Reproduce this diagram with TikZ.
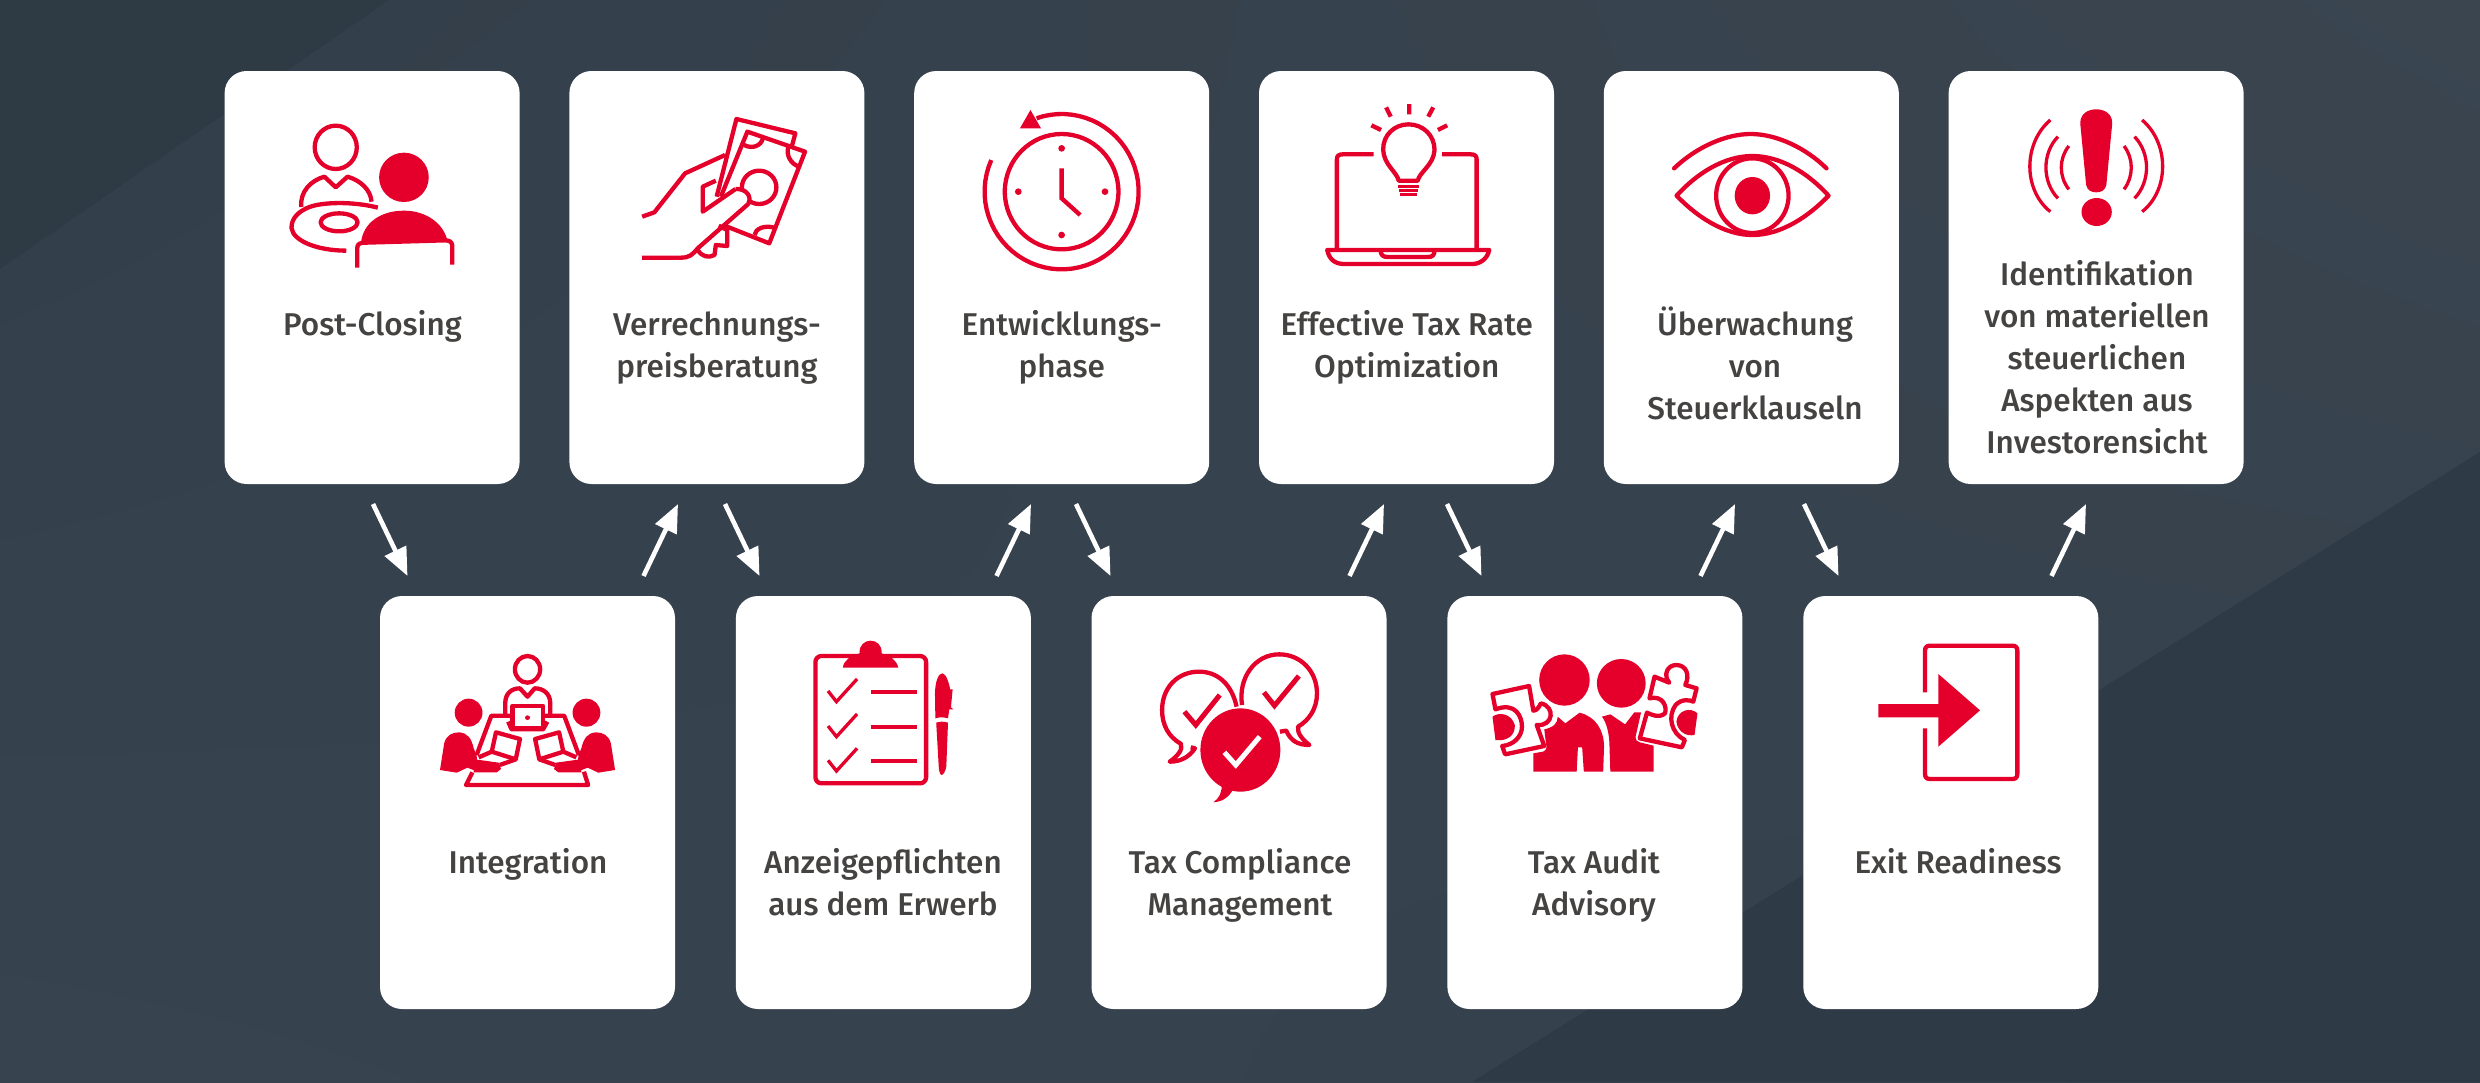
\documentclass[tikz,border=0pt]{standalone}
\usepackage{fontspec}
\setmainfont{Fira Sans}[UprightFont=* Medium]
\usetikzlibrary{arrows.meta,calc,shadings}
\definecolor{myred}{HTML}{E4002B}
\definecolor{mytext}{HTML}{454342}
\definecolor{bgul}{HTML}{323E49}
\definecolor{bgur}{HTML}{3A4550}
\definecolor{bgll}{HTML}{37444F}
\definecolor{bglr}{HTML}{34404B}
\definecolor{bgdark}{HTML}{2E3A44}
\definecolor{bgdark2}{HTML}{2E3A45}
\tikzset{
  card/.style={fill=white,rounded corners=22pt,minimum width=295pt,minimum height=413pt,inner sep=0pt,outer sep=0pt,anchor=north west},
  lab/.style={text=mytext,align=center,anchor=base,inner sep=0pt,font=\fontsize{31.5}{42}\selectfont},
  flow/.style={draw=white,line width=4.6pt,-{Triangle[length=28pt,width=23pt]},shorten <=22.2pt,shorten >=22.2pt},
  rl/.style={draw=myred,line width=4.3pt,line join=round},
  rn/.style={draw=myred,line width=3.3pt,line join=round},
  rf/.style={fill=myred},
  zA/.style 2 args={shift={(#1,#2)},xscale=0.42088,yscale=0.33333},
  zB/.style 2 args={shift={(#1,#2)},xscale=0.33333,yscale=0.33333},
}
\newcommand\earc[6]{plot[domain=#5:#6,samples=60,variable=\t]({#1+#3*cos(\t)},{#2+#4*sin(\t)})}
\newcommand\flowup[4]{\draw[flow] ($(#1.north)+(#2,0)$) -- ($(#3.south)+(#4,0)$);}
\newcommand\flowdn[4]{\draw[flow] ($(#1.south)+(#2,0)$) -- ($(#3.north)+(#4,0)$);}
\begin{document}
\begin{tikzpicture}[x=1pt,y=-1pt]
\useasboundingbox (0,0) rectangle (2480,1082);
% background
\shade[lower left=bgll,upper right=bgur,lower right=bglr,upper left=bgul] (0,0) rectangle (2480,1082);
\fill[bgdark] (0,0) -- (389,0) -- (0,269) -- cycle;
\fill[bgdark2] (2480,452) -- (2480,1082) -- (1472,1082) -- cycle;
% cards
\node[card] (c1) at (224.6,71) {};
\node[card] (c2) at (569.4,71) {};
\node[card] (c3) at (914.2,71) {};
\node[card] (c4) at (1259,71) {};
\node[card] (c5) at (1603.8,71) {};
\node[card] (c6) at (1948.6,71) {};
\node[card] (d1) at (380,596) {};
\node[card] (d2) at (735.9,596) {};
\node[card] (d3) at (1091.5,596) {};
\node[card] (d4) at (1447.4,596) {};
\node[card] (d5) at (1803.3,596) {};
% labels
\node[lab] (t1) at (372.5,335) {Post-Closing};
\node[lab] (t2) at (716.9,377) {Verrechnungs-\\preisberatung};
\node[lab] (t3) at (1061.7,377) {Entwicklungs-\\phase};
\node[lab] (t4) at (1406.8,377) {Effective Tax Rate\\Optimization};
\node[lab] (t5) at (1755,419) {Überwachung\\von\\Steuerklauseln};
\node[lab] (t6) at (2097,453) {Identifikation\\von materiellen\\steuerlichen\\Aspekten aus\\Investorensicht};
\node[lab] (t7) at (528,873) {Integration};
\node[lab] (t8) at (883,915) {Anzeigepflichten\\aus dem Erwerb};
\node[lab] (t9) at (1240,915) {Tax Compliance\\Management};
\node[lab] (t10) at (1594,915) {Tax Audit\\Advisory};
\node[lab] (t11) at (1958,873) {Exit Readiness};
% connectors
\flowdn{c1}{-8.7}{d1}{-110.4}
\flowup{d1}{106.4}{c2}{-29.3}
\flowdn{c2}{-1.5}{d2}{-114.3}
\flowup{d2}{103.5}{c3}{-21.1}
\flowdn{c3}{4.7}{d3}{-118.9}
\flowup{d3}{100.9}{c4}{-12.9}
\flowdn{c4}{30.9}{d4}{-103.8}
\flowup{d4}{96}{c5}{-6.7}
\flowdn{c5}{43.1}{d5}{-102.7}
\flowup{d5}{91.1}{c6}{-0.5}
% icons row 1 (first two)
\begin{scope}[zA={220}{60}]
 % Post-Closing
 \draw[rl] (275,262) ellipse [x radius=50,y radius=65];
 \draw[rl] (193,441) .. controls (190,395) and (215,362) .. (248,350) -- (275,382) -- (303,350) .. controls (335,362) and (358,390) .. (360,425);
 \draw[rl] (375,443) .. controls (330,428) and (270,425) .. (230,435) .. controls (190,445) and (168,475) .. (170,505) .. controls (175,545) and (235,572) .. (300,572);
 \draw[rl] (283,487) ellipse [x radius=44,y radius=27];
 \fill[rf] (437,352) ellipse [x radius=59,y radius=74];
 \fill[rf] (335,548) .. controls (340,490) and (380,452) .. (437,452) .. controls (490,452) and (530,490) .. (540,540) -- cycle;
 \draw[rl] (326,623) -- (326,565) .. controls (326,552) and (332,548) .. (345,548) -- (535,541) .. controls (548,541) and (552,548) .. (552,560) -- (552,614);
 % money
 \draw[rl] (1180,410) -- (1227,177) -- (1367,220) -- (1358,262);
 \draw[rl] (1190,410) -- (1253,215) -- (1390,275) -- (1305,550) -- (1195,495);
 \draw[rl] (1245,255) .. controls (1265,268) and (1285,258) .. (1290,235);
 \draw[rl] (1350,262) .. controls (1345,285) and (1355,310) .. (1375,320);
 \draw[rl] (1270,525) .. controls (1272,505) and (1295,495) .. (1317,503);
 \draw[rl] (1281,382) ellipse [x radius=41,y radius=50];
 \fill[white] (1147,455) -- (1225,387) .. controls (1250,385) and (1265,410) .. (1255,432) -- (1135,565) -- (1100,590) -- (1003,590) -- (1003,475) -- (1032,457) -- cycle;
 \draw[rl] (1003,470) -- (1032,457) -- (1105,340) -- (1200,285);
 \draw[rl] (1178,362) -- (1147,380) -- (1147,455) -- (1225,387);
 \draw[rl] (1185,497) -- (1205,510) -- (1205,558) -- (1178,555) -- (1175,585) .. controls (1160,595) and (1145,590) .. (1135,570);
 \draw[rl] (1003,593) -- (1095,593) .. controls (1115,593) and (1122,585) .. (1135,565) -- (1255,432) .. controls (1265,410) and (1250,385) .. (1225,387);
\end{scope}
\begin{scope}[zA={900}{60}]
 % clock
 \draw[rl] \earc{384}{395}{183}{233}{204}{-109};
 \fill[rf] (310,150) -- (285,205) -- (335,205) -- cycle;
 \draw[rl] (384,395) ellipse [x radius=135,y radius=173];
 \foreach \p in {(384,265),(384,525),(281,395),(487,395)} \fill[rf] \p ellipse [x radius=8,y radius=10];
 \draw[rl,line join=miter] (384,325) -- (384,415) -- (428,465);
 % laptop
 \draw[rl] (1185,362) .. controls (1180,335) and (1150,315) .. (1148,270) .. controls (1147,225) and (1175,193) .. (1208,193) .. controls (1242,193) and (1270,225) .. (1270,270) .. controls (1268,315) and (1235,335) .. (1230,362) -- cycle;
 \draw[rn] (1183,380) -- (1233,380) (1185,392) -- (1231,392) (1187,403) -- (1228,403);
 \draw[rl] (1210,132) -- (1210,163) (1155,142) -- (1166,170) (1267,142) -- (1255,170) (1120,196) -- (1143,210) (1300,196) -- (1278,210);
 \draw[rl] (1125,283) -- (1052,283) .. controls (1042,283) and (1038,288) .. (1038,298) -- (1038,570);
 \draw[rl] (1288,283) -- (1356,283) .. controls (1366,283) and (1370,288) .. (1370,298) -- (1370,570);
 \draw[rl] (1015,570) -- (1400,570) .. controls (1395,600) and (1375,612) .. (1360,612) -- (1055,612) .. controls (1035,612) and (1020,600) .. (1015,570) -- cycle;
 \draw[rl] (1142,572) .. controls (1142,585) and (1148,591) .. (1158,591) -- (1255,591) .. controls (1265,591) and (1270,585) .. (1270,572);
\end{scope}
\begin{scope}[zA={1600}{60}]
 % eye
 \draw[rl,line cap=round] (176,325) .. controls (230,260) and (300,222) .. (358,222) .. controls (420,222) and (490,265) .. (538,325);
 \draw[rl] (182,407) .. controls (230,340) and (295,288) .. (362,288) .. controls (430,288) and (495,340) .. (543,407) .. controls (495,470) and (430,525) .. (362,525) .. controls (295,525) and (230,470) .. (182,407) -- cycle;
 \draw[rl] (362,407) ellipse [x radius=86,y radius=112];
 \fill[rf] (362,407) ellipse [x radius=42,y radius=56];
 % alert
 \fill[rf] (1141,190) .. controls (1141,160) and (1160,148) .. (1179,148) .. controls (1198,148) and (1217,160) .. (1217,190) -- (1203,375) .. controls (1200,392) and (1190,397) .. (1179,397) .. controls (1168,397) and (1158,392) .. (1155,375) -- cycle;
 \fill[rf] (1180,456) ellipse [x radius=36,y radius=42];
 \draw[rn] (1070,180) .. controls (1005,250) and (1005,390) .. (1070,455);
 \draw[rn] (1088,230) .. controls (1050,280) and (1050,365) .. (1088,415);
 \draw[rn] (1114,258) .. controls (1090,295) and (1090,350) .. (1114,388);
 \draw[rn] (1288,180) .. controls (1353,250) and (1353,390) .. (1288,455);
 \draw[rn] (1270,230) .. controls (1308,280) and (1308,365) .. (1270,415);
 \draw[rn] (1245,258) .. controls (1268,295) and (1268,350) .. (1245,388);
\end{scope}
\begin{scope}[zA={400}{620}]
 % meeting
 \draw[rl] (303,148) ellipse [x radius=30,y radius=40];
 \draw[rl] (250,285) -- (250,250) .. controls (250,220) and (265,205) .. (285,205) -- (303,230) -- (320,205) .. controls (340,205) and (357,220) .. (357,250) -- (357,285);
 \draw[rl] (267,258) rectangle (340,325);
 \fill[rf] (303,293) ellipse [x radius=6,y radius=7];
 \draw[rl] (257,305) -- (265,328) -- (340,328) -- (350,305);
 \draw[rl] (182,405) -- (217,287) -- (262,287) (345,287) -- (390,287) -- (425,405);
 \draw[rl] (172,457) -- (157,495) -- (447,495) -- (437,455);
 \foreach \mir/\sft in {1/0,-1/606}{
 \begin{scope}[shift={(\sft,0)},xscale=\mir]
  \fill[rf] (163,278) ellipse [x radius=33,y radius=42];
  \fill[rf] (95,450) -- (105,370) .. controls (110,345) and (125,337) .. (140,337) .. controls (160,338) and (170,355) .. (175,385) -- (182,405) -- (185,455) -- (160,443) -- (135,458) -- cycle;
  \draw[rl] (228,337) -- (285,357) -- (275,418) -- (218,395) -- cycle;
  \draw[rl] (218,395) -- (187,412);
  \draw[rl] (275,418) -- (237,435);
  \fill[rf] (178,418) -- (235,428) -- (240,447) -- (230,457) -- (175,457) -- cycle;
 \end{scope}}
 % clipboard
 \draw[rl,rounded corners=6pt] (987,108) rectangle (1250,490);
 \fill[rf] (1052,143) .. controls (1055,120) and (1070,108) .. (1092,100) .. controls (1090,75) and (1105,62) .. (1118,62) .. controls (1132,62) and (1146,75) .. (1144,100) .. controls (1165,108) and (1180,120) .. (1184,143) -- cycle;
 \foreach \d in {0,105,208}{
  \draw[rn,line join=miter] (1017,{213+\d}) -- (1037,{245+\d}) -- (1086,{177+\d});
  \draw[rl] (1118,{216+\d}) -- (1228,{216+\d});
 }
 \fill[rf] (1272,295) -- (1271,220) .. controls (1272,180) and (1280,160) .. (1289,160) .. controls (1298,162) and (1305,190) .. (1307,208) -- (1313,208) -- (1309,262) -- (1315,268) -- (1305,268) -- (1302,295) .. controls (1292,291) and (1282,291) .. (1272,295) -- cycle;
 \fill[rf] (1274,308) .. controls (1283,304) and (1293,304) .. (1302,308) -- (1298,440) .. controls (1296,455) and (1290,465) .. (1287,465) .. controls (1283,465) and (1280,450) .. (1280,440) -- cycle;
\end{scope}
\begin{scope}[zA={1120}{620}]
 % bubbles
 \draw[rl] (277,260) .. controls (265,190) and (230,155) .. (188,155) .. controls (135,155) and (100,205) .. (100,270) .. controls (100,315) and (115,350) .. (145,372) .. controls (150,390) and (135,410) .. (118,425) .. controls (145,425) and (165,410) .. (178,385) -- (168,382);
 \draw[rl] (290,255) .. controls (280,175) and (320,103) .. (378,103) .. controls (430,103) and (468,155) .. (468,220) .. controls (468,265) and (450,300) .. (423,320) .. controls (420,340) and (435,360) .. (450,375) .. controls (420,375) and (405,360) .. (395,332) -- (380,335);
 \fill[rf] (286,390) ellipse [x radius=95,y radius=125];
 \fill[rf] (240,490) .. controls (245,515) and (235,535) .. (222,547) .. controls (245,545) and (260,530) .. (270,505) -- cycle;
 \draw[myred,line width=5pt,line join=miter] (153,275) -- (180,315) -- (237,225);
 \draw[myred,line width=5pt,line join=miter] (342,217) -- (367,257) -- (425,168);
 \draw[white,line width=5pt,line join=miter] (248,397) -- (275,435) -- (332,350);
 % people + puzzle
 \fill[rf] (1056,180) ellipse [x radius=60,y radius=77];
 \fill[rf] (1191,190) ellipse [x radius=58,y radius=73];
 \fill[rf] (982,455) -- (982,400) -- (1005,395) .. controls (1015,390) and (1014,380) .. (1012,370) -- (1008,328) .. controls (1030,322) and (1040,310) .. (1040,290) -- (1058,310) -- (1092,278) .. controls (1130,290) and (1150,330) .. (1150,380) -- (1148,455) -- (1102,455) -- (1098,382) -- (1088,382) -- (1085,455) -- cycle;
 \fill[rf] (1165,455) -- (1163,380) .. controls (1163,340) and (1155,305) .. (1145,290) -- (1165,283) -- (1200,313) -- (1222,277) -- (1238,277) -- (1225,350) .. controls (1225,360) and (1228,365) .. (1235,367) -- (1268,377) -- (1268,455) -- cycle;
 \draw[rl] (972,198) -- (885,222) -- (892,268) .. controls (940,245) and (955,290) .. (955,320) .. controls (955,350) and (935,375) .. (908,378) -- (915,403) -- (1008,378) -- (990,315) .. controls (1030,320) and (1035,260) .. (1000,250) .. controls (995,262) and (990,272) .. (982,272) -- cycle;
 \fill[rf] (885,290) .. controls (900,275) and (930,280) .. (938,315) .. controls (940,345) and (920,365) .. (892,360) -- cycle;
 \draw[rl] (1270,170) -- (1258,235) .. controls (1290,225) and (1300,260) .. (1295,280) .. controls (1280,295) and (1265,285) .. (1252,278) -- (1235,355) -- (1335,382) -- (1342,360) .. controls (1310,340) and (1300,290) .. (1320,255) .. controls (1335,235) and (1355,240) .. (1362,245) -- (1370,205) -- (1343,195) .. controls (1355,165) and (1345,135) .. (1322,135) .. controls (1300,135) and (1290,165) .. (1305,188) -- cycle;
 \fill[rf] (1372,280) .. controls (1355,260) and (1325,270) .. (1322,305) .. controls (1325,335) and (1345,350) .. (1365,345) -- cycle;
\end{scope}
\begin{scope}[zB={1800}{620}]
 % exit
 \draw[rl] (375,217) -- (375,92) .. controls (375,82) and (380,77) .. (390,77) -- (637,77) .. controls (647,77) and (652,82) .. (652,92) -- (652,462) .. controls (652,472) and (647,477) .. (637,477) -- (390,477) .. controls (380,477) and (375,472) .. (375,462) -- (375,325);
 \fill[rf] (235,252) -- (415,252) -- (415,162) -- (540,271) -- (415,380) -- (415,292) -- (235,292) -- cycle;
\end{scope}
\end{tikzpicture}
\end{document}
